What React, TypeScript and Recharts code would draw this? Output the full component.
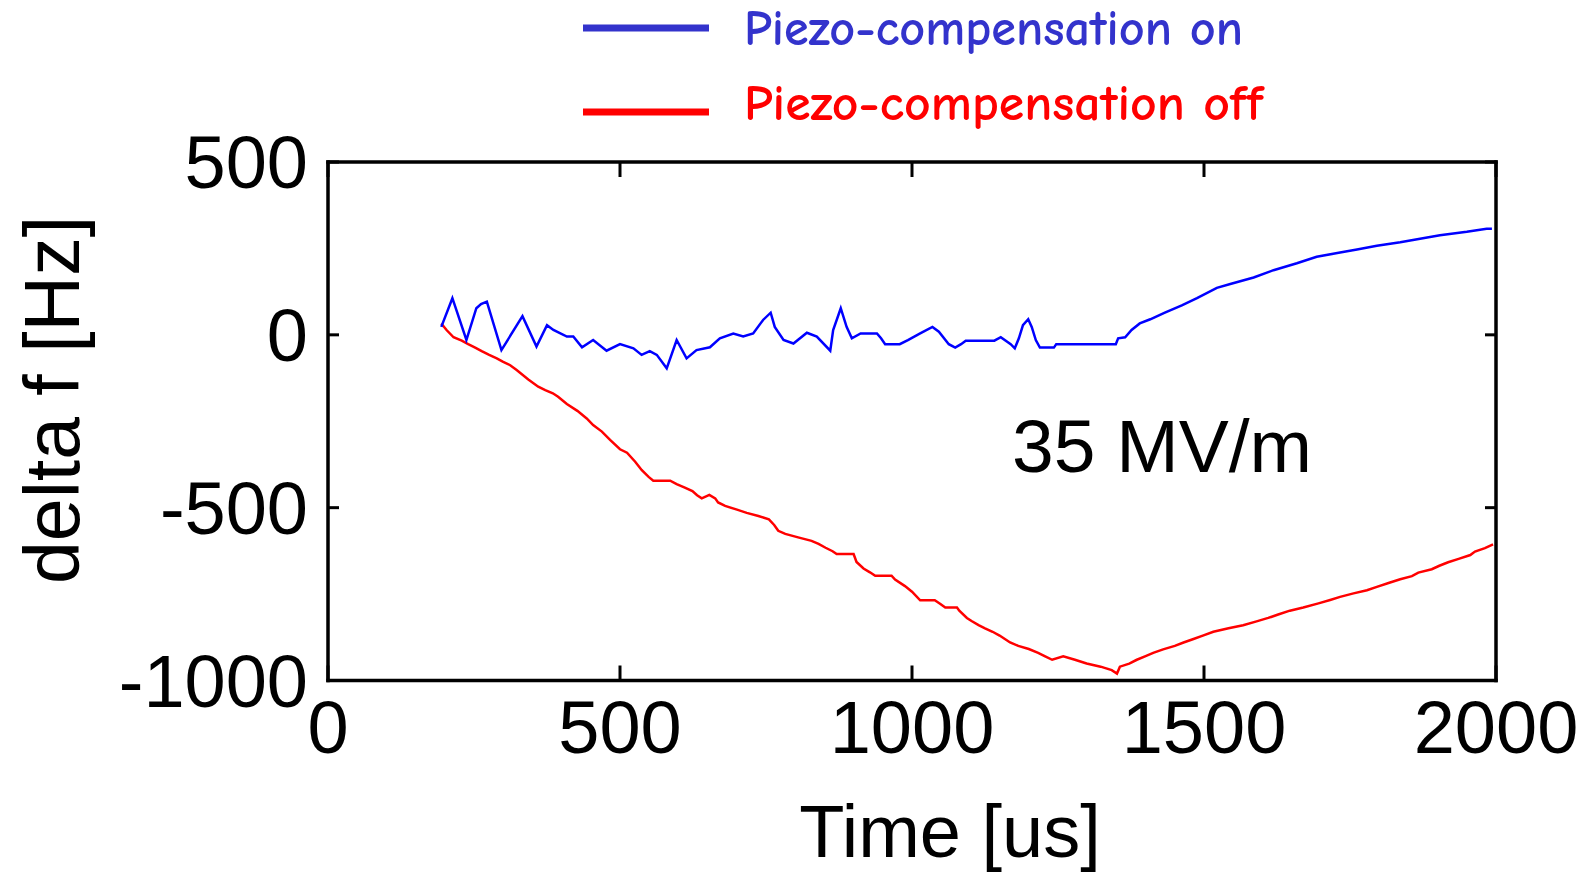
import React from 'react';
import { LineChart, Line, XAxis, YAxis } from 'recharts';

// ---- data ----
const xTicks = [0, 500, 1000, 1500, 2000];
const yTicks = [-1000, -500, 0, 500];

const onTime = [194, 213, 237, 254, 262, 272, 297, 333, 357, 375, 386, 409, 420, 435, 454, 477, 500, 523, 537, 551, 563, 580, 597, 614, 631, 654, 671, 694, 711, 728, 745, 758, 765, 780, 797, 820, 837, 860, 865, 878, 888, 897, 912, 940, 947, 954, 979, 993, 1014, 1035, 1046, 1063, 1074, 1084, 1092, 1141, 1152, 1169, 1176, 1183, 1190, 1199, 1205, 1212, 1219, 1243, 1247, 1349, 1353, 1365, 1376, 1390, 1408, 1433, 1462, 1488, 1522, 1545, 1585, 1619, 1659, 1693, 1733, 1762, 1796, 1836, 1870, 1904, 1950, 1984, 1993];
const onDelta = [23, 106, -15, 77, 89, 96, -44, 54, -34, 28, 14, -5, -5, -36, -15, -46, -27, -39, -58, -47, -58, -97, -15, -68, -44, -36, -10, 4, -5, 4, 43, 64, 23, -15, -25, 6, -5, -46, 14, 77, 23, -10, 4, 4, -10, -27, -27, -15, 4, 23, 9, -27, -37, -27, -17, -17, -7, -27, -39, -10, 28, 45, 23, -15, -37, -37, -27, -27, -10, -7, 14, 33, 45, 64, 85, 106, 136, 147, 166, 187, 207, 226, 238, 247, 258, 268, 278, 288, 298, 307, 307];

const offTime = [194, 203, 215, 229, 240, 252, 264, 276, 289, 300, 312, 323, 343, 360, 372, 385, 394, 409, 427, 443, 454, 469, 483, 500, 512, 526, 537, 549, 557, 586, 597, 611, 624, 632, 640, 653, 663, 668, 680, 699, 717, 737, 755, 764, 771, 783, 805, 828, 840, 852, 864, 871, 900, 905, 917, 928, 937, 965, 971, 988, 1000, 1014, 1039, 1048, 1057, 1077, 1081, 1094, 1102, 1114, 1125, 1138, 1150, 1159, 1168, 1182, 1200, 1216, 1228, 1240, 1259, 1279, 1299, 1323, 1342, 1351, 1356, 1372, 1385, 1399, 1413, 1430, 1450, 1465, 1482, 1498, 1516, 1542, 1567, 1590, 1610, 1627, 1647, 1670, 1696, 1716, 1733, 1756, 1779, 1796, 1816, 1836, 1856, 1867, 1890, 1903, 1918, 1936, 1956, 1964, 1981, 1995];
const offDelta = [33, 14, -7, -17, -27, -37, -48, -58, -68, -78, -88, -102, -129, -150, -160, -169, -179, -200, -220, -242, -261, -280, -304, -331, -341, -367, -391, -411, -422, -422, -432, -442, -452, -464, -473, -463, -473, -485, -495, -505, -515, -524, -534, -550, -567, -576, -586, -596, -605, -616, -626, -634, -634, -657, -676, -687, -697, -697, -708, -727, -743, -768, -768, -778, -789, -789, -798, -819, -828, -840, -849, -859, -870, -880, -890, -900, -909, -920, -930, -940, -930, -940, -951, -960, -970, -980, -960, -951, -940, -930, -920, -910, -900, -890, -880, -870, -859, -849, -840, -829, -819, -809, -798, -789, -777, -767, -758, -748, -739, -729, -718, -707, -698, -688, -678, -668, -658, -648, -637, -627, -617, -606];

const legendLabels = ['Piezo-compensation on', 'Piezo-compensation off'];
const xTitle = 'Time [us]';
const yTitle = 'delta f [Hz]';
const annotation = '35 MV/m';

const onData = onTime.map((t, i) => ({ x: t, y: onDelta[i] }));
const offData = offTime.map((t, i) => ({ x: t, y: offDelta[i] }));

const axisFont = "'Liberation Sans', Arial, Helvetica, sans-serif";
const legendFont = "'Comic Sans MS', 'Comic Neue', 'DejaVu Sans', sans-serif";
const tickStyle = { fontSize: 74, fill: '#000', fontFamily: axisFont };
const axisLineStyle = { stroke: '#000', strokeWidth: 3.5, strokeLinecap: 'square' as const };
const tickLineStyle = { stroke: '#000', strokeWidth: 3 };
const blank = () => '';

export default function App() {
  return (
    <div style={{ position: 'absolute', left: 0, top: 0, width: 1582, height: 874, background: '#fff' }}>
      <LineChart
        width={1582}
        height={874}
        margin={{ top: 152, right: 76, bottom: 93.5, left: 128 }}
      >
        <XAxis
          xAxisId="bottom"
          type="number"
          dataKey="x"
          domain={[0, 2000]}
          ticks={xTicks}
          allowDataOverflow
          height={100}
          tickSize={-15}
          tickMargin={35}
          tick={tickStyle}
          axisLine={axisLineStyle}
          tickLine={tickLineStyle}
        />
        <XAxis
          xAxisId="top"
          orientation="top"
          type="number"
          dataKey="x"
          domain={[0, 2000]}
          ticks={xTicks}
          allowDataOverflow
          height={10}
          tickSize={-15}
          tickFormatter={blank}
          axisLine={axisLineStyle}
          tickLine={tickLineStyle}
        />
        <YAxis
          yAxisId="left"
          type="number"
          domain={[-1000, 500]}
          ticks={yTicks}
          allowDataOverflow
          width={200}
          tickSize={-11}
          tickMargin={31}
          tick={tickStyle}
          axisLine={axisLineStyle}
          tickLine={tickLineStyle}
        />
        <YAxis
          yAxisId="right"
          orientation="right"
          type="number"
          domain={[-1000, 500]}
          ticks={yTicks}
          allowDataOverflow
          width={10}
          tickSize={-11}
          tickFormatter={blank}
          axisLine={axisLineStyle}
          tickLine={tickLineStyle}
        />
        <Line
          xAxisId="bottom"
          yAxisId="left"
          data={offData}
          dataKey="y"
          name={legendLabels[1]}
          type="linear"
          stroke="#ff0000"
          strokeWidth={2.5}
          dot={false}
          activeDot={false}
          isAnimationActive={false}
        />
        <Line
          xAxisId="bottom"
          yAxisId="left"
          data={onData}
          dataKey="y"
          name={legendLabels[0]}
          type="linear"
          stroke="#0000ff"
          strokeWidth={2.5}
          dot={false}
          activeDot={false}
          isAnimationActive={false}
        />
      </LineChart>
      <svg
        width={1582}
        height={874}
        style={{ position: 'absolute', left: 0, top: 0, pointerEvents: 'none' }}
      >
        <line x1={583} y1={28} x2={709} y2={28} stroke="#3333cc" strokeWidth={7} />
        <text
          x={744}
          y={45}
          fill="#3333cc"
          fontSize={50}
          fontWeight="bold"
          fontFamily={legendFont}
          textLength={499}
          lengthAdjust="spacingAndGlyphs"
        >
          {legendLabels[0]}
        </text>
        <line x1={583} y1={112} x2={709} y2={112} stroke="#ff0000" strokeWidth={7} />
        <text
          x={744}
          y={120}
          fill="#ff0000"
          fontSize={50}
          fontWeight="bold"
          fontFamily={legendFont}
          textLength={519}
          lengthAdjust="spacingAndGlyphs"
        >
          {legendLabels[1]}
        </text>
        <text x={950} y={857} textAnchor="middle" fontSize={74} fontFamily={axisFont} fill="#000">
          {xTitle}
        </text>
        <text
          x={79}
          y={400}
          textAnchor="middle"
          fontSize={77}
          fontFamily={axisFont}
          fill="#000"
          transform="rotate(-90, 79, 400)"
        >
          {yTitle}
        </text>
        <text x={1012} y={472} fontSize={75} fontFamily={axisFont} fill="#000">
          {annotation}
        </text>
      </svg>
    </div>
  );
}
